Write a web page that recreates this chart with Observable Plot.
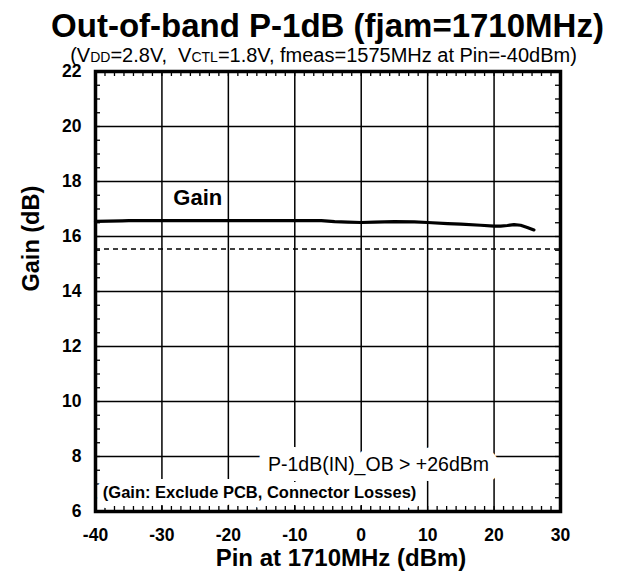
<!DOCTYPE html>
<html>
<head>
<meta charset="utf-8">
<script src="https://cdn.jsdelivr.net/npm/d3@7"></script>
<script src="https://cdn.jsdelivr.net/npm/@observablehq/plot@0.6"></script>
<style>
  body { margin: 0; background: #fff; }
  #chart { position: relative; width: 623px; height: 576px; font-family: "Liberation Sans", Arial, sans-serif; color: #000; }
  #chart svg { position: absolute; left: 0; top: 0; }
  #title { position: absolute; left: 16px; top: 9px; width: 623px; text-align: center; font-weight: bold; font-size: 33px; line-height: 33px; white-space: nowrap; }
  #subtitle { position: absolute; left: 12px; top: 45px; width: 623px; text-align: center; font-size: 20px; line-height: 20px; white-space: nowrap; }
  #subtitle small { font-size: 14px; }
</style>
</head>
<body>
<div id="chart"></div>
<script>
// Gain vs input power of the 1710 MHz jammer
const pin  = [-40, -38, -36, -35, -30, -25, -20, -15, -10, -6, -4, -2, 0, 2, 5, 8, 10, 13, 15, 18, 20, 21, 22, 23, 24, 25, 26];
const gain = [16.55, 16.56, 16.57, 16.58, 16.58, 16.58, 16.58, 16.58, 16.58, 16.58, 16.54, 16.52, 16.51, 16.52, 16.54, 16.53, 16.51, 16.47, 16.45, 16.41, 16.38, 16.38, 16.40, 16.43, 16.41, 16.33, 16.24];

// 1 dB compression reference level (small-signal gain minus 1 dB)
const compressionLevel = [15.55];

// Axis ticks
const xTicks = [-40, -30, -20, -10, 0, 10, 20, 30];
const yTicks = [6, 8, 10, 12, 14, 16, 18, 20, 22];

// Annotations
const noteText = ["Gain", "P-1dB(IN)_OB > +26dBm", "(Gain: Exclude PCB, Connector Losses)"];
const noteX = [-24.6, 2.6, -15.3];
const noteY = [17.41, 7.71, 6.69];

const table = pin.map((p, i) => ({pin: p, gain: gain[i]}));
const notes = noteText.map((t, i) => ({text: t, x: noteX[i], y: noteY[i]}));

const W = 623, H = 576;
const mL = 95, mR = 63, mT = 71, mB = 65;
const fw = W - mL - mR, fh = H - mT - mB;
const tickLen = 5;

const xMinor = d3.range(0, 50).map(i => -40 + i * 10 / 7);
const yMinor = d3.range(0, 33).map(i => 6 + i * 0.5);

const chart = Plot.plot({
  width: W,
  height: H,
  marginLeft: mL,
  marginRight: mR,
  marginTop: mT,
  marginBottom: mB,
  style: {fontFamily: "'Liberation Sans', Arial, sans-serif", fontWeight: "bold", color: "#000", background: "#fff"},
  x: {domain: [-40, 30]},
  y: {domain: [6, 22]},
  marks: [
    // grid
    Plot.ruleX(xTicks.slice(1, -1), {stroke: "#000", strokeWidth: 1.5}),
    Plot.ruleY(yTicks.slice(1, -1), {stroke: "#000", strokeWidth: 1.5}),
    Plot.ruleY(compressionLevel, {stroke: "#000", strokeWidth: 1.5, strokeDasharray: "5,4"}),
    // inward minor ticks on all four sides
    Plot.ruleX(xMinor, {stroke: "#000", strokeWidth: 1.3, insetTop: fh - tickLen}),
    Plot.ruleX(xMinor, {stroke: "#000", strokeWidth: 1.3, insetBottom: fh - tickLen}),
    Plot.ruleY(yMinor, {stroke: "#000", strokeWidth: 1.3, insetRight: fw - tickLen}),
    Plot.ruleY(yMinor, {stroke: "#000", strokeWidth: 1.3, insetLeft: fw - tickLen}),
    // gain curve
    Plot.line(table, {x: "pin", y: "gain", stroke: "#000", strokeWidth: 3.2, strokeLinejoin: "round"}),
    // annotations
    Plot.text(notes.slice(0, 1), {x: "x", y: "y", text: "text", fontSize: 22, fontWeight: "bold", fill: "#000"}),
    Plot.text(notes.slice(1, 2), {x: "x", y: "y", text: "text", fontSize: 19.5, fontWeight: "normal", fill: "#000", stroke: "#fff", strokeWidth: 20, strokeLinejoin: "round"}),
    Plot.text(notes.slice(2, 3), {x: "x", y: "y", text: "text", fontSize: 16.5, fontWeight: "bold", fill: "#000", stroke: "#fff", strokeWidth: 14, strokeLinejoin: "round"}),
    // frame
    Plot.frame({stroke: "#000", strokeWidth: 3.5}),
    // axes
    Plot.axisX({ticks: xTicks, tickSize: 0, tickPadding: 17, fontSize: 17.5, fontWeight: "bold", tickFormat: d => String(d), label: null}),
    Plot.axisY({ticks: yTicks, tickSize: 0, tickPadding: 14, fontSize: 17.5, fontWeight: "bold", tickFormat: d => String(d), label: null}),
    Plot.text(["Pin at 1710MHz (dBm)"], {frameAnchor: "bottom", dx: 13, dy: 54, fontSize: 24, fontWeight: "bold", fill: "#000"}),
    Plot.text(["Gain (dB)"], {frameAnchor: "left", rotate: -90, dx: -64, dy: 0, fontSize: 23.5, fontWeight: "bold", fill: "#000"})
  ]
});

const root = document.getElementById("chart");
root.appendChild(chart);

const title = document.createElement("div");
title.id = "title";
title.textContent = "Out-of-band P-1dB (fjam=1710MHz)";
root.appendChild(title);

const subtitle = document.createElement("div");
subtitle.id = "subtitle";
subtitle.innerHTML = "(V<small>DD</small>=2.8V,&nbsp; V<small>CTL</small>=1.8V, fmeas=1575MHz at Pin=-40dBm)";
root.appendChild(subtitle);
</script>
</body>
</html>
